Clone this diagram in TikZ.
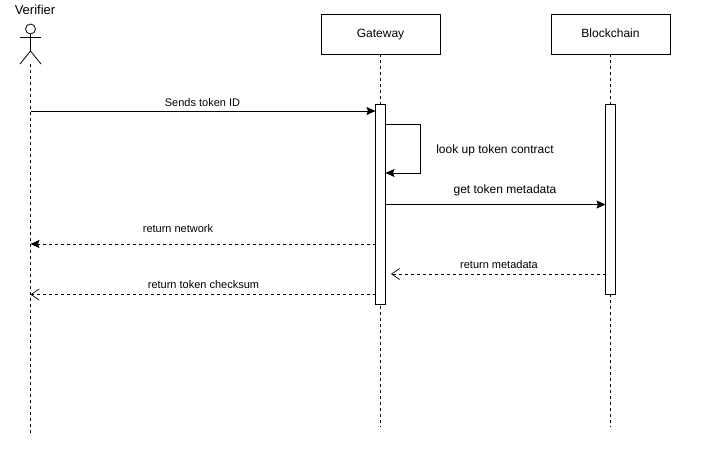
\documentclass[tikz,border=0pt]{standalone}
\usepackage{fontspec}
\setmainfont{Liberation Sans}
\usetikzlibrary{arrows.meta}

\tikzset{
    party/.style={draw, minimum width=119pt, minimum height=40pt, text height=8pt, text depth=2pt, font=\fontsize{12}{14}\selectfont},
    activation/.style={draw, fill=white, minimum width=10pt, inner sep=0pt},
    lifeline/.style={dash pattern=on 3pt off 3pt},
    msg/.style={-{Stealth[length=9pt,width=8pt,inset=1.5pt]}},
    reply/.style={dash pattern=on 3pt off 3pt, -{Straight Barb[length=8pt,width=11pt]}, line width=0.7pt},
    replyfull/.style={dash pattern=on 3pt off 3pt, -{Stealth[length=9pt,width=8pt,inset=1.5pt]}, line width=0.7pt},
    msglabel/.style={inner sep=0pt, font=\fontsize{11}{13}\selectfont},
    msgbig/.style={inner sep=0pt, font=\fontsize{12}{14}\selectfont},
}

\begin{document}
\begin{tikzpicture}[x=1pt, y=-1pt, line width=0.8pt]

    \useasboundingbox (0,0) rectangle (707,448);

    % actor
    \node (head) [draw, circle, minimum size=10pt, inner sep=0pt] at (30.5,29) {};
    \node (verifier) [inner sep=0pt, font=\fontsize{13}{15}\selectfont] at (35,9.5) {Verifier};
    \coordinate (armL) at (20,37.7);
    \coordinate (armR) at (41,37.7);
    \coordinate (hip) at (30.5,51);
    \coordinate (legL) at (20,64);
    \coordinate (legR) at (41,64);
    \coordinate (footV) at (30.5,64);
    \draw (armL) -- (armR);
    \draw (head) -- (hip);
    \draw (legL) -- (hip) -- (legR);

    % parties
    \node (gateway) [party] at (380.5,34) {Gateway};
    \node (chain) [party] at (610.5,34) {Blockchain};

    % lifelines
    \coordinate (endV) at (30.5,434);
    \coordinate (endG) at (380.5,427);
    \coordinate (endC) at (610.5,427);
    \draw [lifeline] (footV) -- (endV);
    \draw [lifeline] (gateway) -- (endG);
    \draw [lifeline] (chain) -- (endC);

    % activations
    \node (actG) [activation, minimum height=200pt] at (380.5,204) {};
    \node (actC) [activation, minimum height=190pt] at (610.5,199) {};

    % anchors on the lifelines
    \coordinate (v1) at (30.5,111);
    \coordinate (g1) at (375.5,111);
    \coordinate (g2) at (385.5,124.5);
    \coordinate (g3) at (420.5,124.5);
    \coordinate (g4) at (420.5,173);
    \coordinate (g5) at (385.5,173);
    \coordinate (g6) at (385.5,204.5);
    \coordinate (c1) at (605.5,204.5);
    \coordinate (g7) at (375.5,244);
    \coordinate (v2) at (30.5,244);
    \coordinate (c2) at (605.5,274);
    \coordinate (g8) at (391,274);
    \coordinate (g9) at (375.5,294.5);
    \coordinate (v3) at (30.5,294.5);

    % messages
    \draw [msg] (v1) -- (g1);
    \draw [msg] (g2) -- (g3) -- (g4) -- (g5);
    \draw [msg] (g6) -- (c1);
    \draw [replyfull] (g7) -- (v2);
    \draw [reply] (c2) -- (g8);
    \draw [reply] (g9) -- (v3);

    % labels
    \node (lab1) [msglabel] at (202.5,103) {Sends token ID};
    \node (lab2) [msgbig] at (495,150) {look up token contract};
    \node (lab3) [msgbig] at (505,190) {get token metadata};
    \node (lab4) [msglabel] at (178,228.5) {return network};
    \node (lab5) [msglabel] at (499,265) {return metadata};
    \node (lab6) [msglabel] at (203.5,285) {return token checksum};

\end{tikzpicture}
\end{document}
